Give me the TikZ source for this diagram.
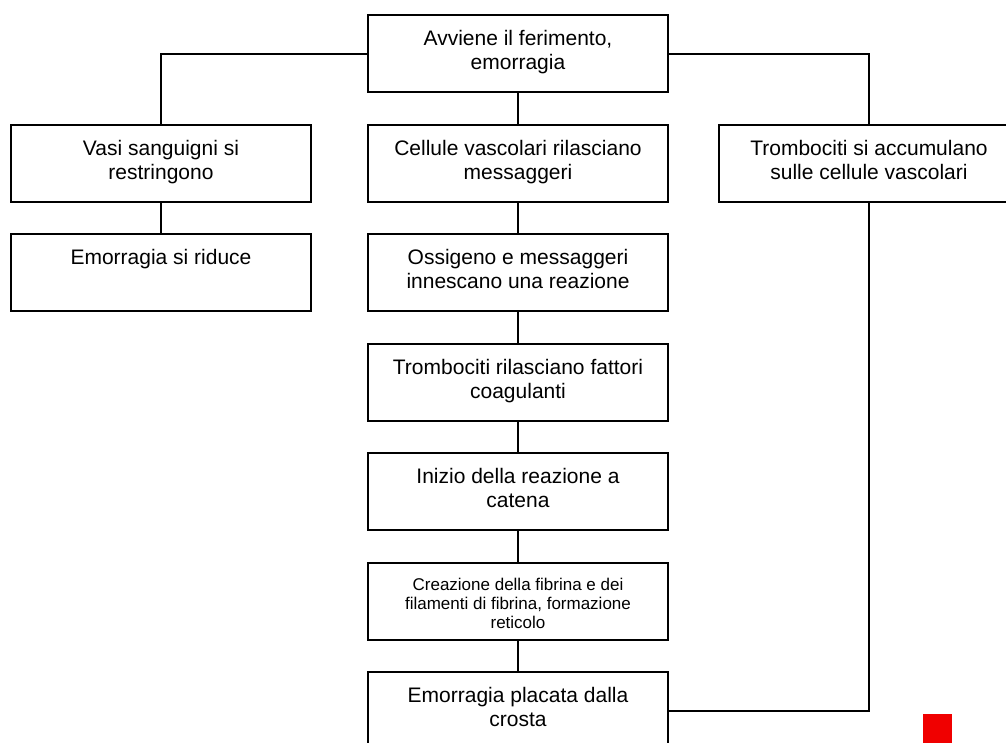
\documentclass[tikz,border=0pt]{standalone}
\usepackage{fontspec}
\setmainfont{Liberation Sans}
\begin{document}
\begin{tikzpicture}[x=1pt,y=-1pt,
  box/.style={draw=black, line width=2pt, minimum width=300pt, minimum height=77pt, inner sep=0pt, anchor=north},
  txt/.style={anchor=north, align=center, inner sep=0pt, font=\fontsize{21}{24}\selectfont},
  smalltxt/.style={anchor=north, align=center, inner sep=0pt, font=\fontsize{17}{19}\selectfont},
  conn/.style={line width=2pt, draw=black}]
\useasboundingbox (0,0) rectangle (1006,742);
\fill[white] (0,0) rectangle (1006,742);

% boxes
\node[box] (top) at (518,14) {};
\node[box] (vasi) at (161,124) {};
\node[box] (riduce) at (161,233) {};
\node[box] (cell) at (518,124) {};
\node[box] (oss) at (518,233) {};
\node[box] (tromr) at (518,343) {};
\node[box] (iniz) at (518,452) {};
\node[box] (crea) at (518,562) {};
\node[box] (placata) at (518,671) {};
\node[box] (troma) at (869,124) {};

% texts
\node[txt] (top-t) at ([yshift=-16pt]top.north) {Avviene il ferimento,\\emorragia};
\node[txt] (vasi-t) at ([yshift=-16pt]vasi.north) {Vasi sanguigni si\\restringono};
\node[txt] (riduce-t) at ([yshift=-16pt]riduce.north) {Emorragia si riduce};
\node[txt] (cell-t) at ([yshift=-16pt]cell.north) {Cellule vascolari rilasciano\\messaggeri};
\node[txt] (oss-t) at ([yshift=-16pt]oss.north) {Ossigeno e messaggeri\\innescano una reazione};
\node[txt] (tromr-t) at ([yshift=-16pt]tromr.north) {Trombociti rilasciano fattori\\coagulanti};
\node[txt] (iniz-t) at ([yshift=-16pt]iniz.north) {Inizio della reazione a\\catena};
\node[smalltxt] (crea-t) at ([yshift=-16pt]crea.north) {Creazione della fibrina e dei\\filamenti di fibrina, formazione\\reticolo};
\node[txt] (placata-t) at ([yshift=-16pt]placata.north) {Emorragia placata dalla\\crosta};
\node[txt] (troma-t) at ([yshift=-16pt]troma.north) {Trombociti si accumulano\\sulle cellule vascolari};

% connectors
\draw[conn] (top.west) -| (vasi.north);
\draw[conn] (top.east) -| (troma.north);
\draw[conn] (top.south) -- (cell.north);
\draw[conn] (vasi.south) -- (riduce.north);
\draw[conn] (cell.south) -- (oss.north);
\draw[conn] (oss.south) -- (tromr.north);
\draw[conn] (tromr.south) -- (iniz.north);
\draw[conn] (iniz.south) -- (crea.north);
\draw[conn] (crea.south) -- (placata.north);
\draw[conn] (troma.south) |- (placata.east);

% red mark
\fill[fill={rgb,255:red,240;green,0;blue,0}] (923,714) rectangle (952,745);
\end{tikzpicture}
\end{document}
